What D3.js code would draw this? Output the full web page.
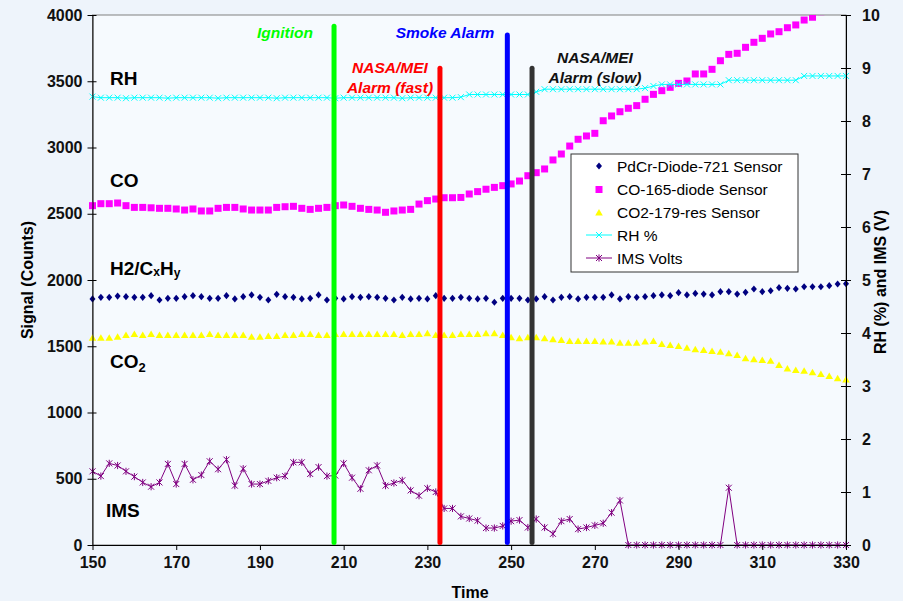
<!DOCTYPE html>
<html>
<head>
<meta charset="utf-8">
<script src="https://cdn.jsdelivr.net/npm/d3@7"></script>
<style>
  body { margin: 0; background: #eef4fb; }
  svg { display: block; font-family: "Liberation Sans", Arial, sans-serif; }
</style>
</head>
<body>
<div id="chart"></div>
<script>
// sample times (x)
const times = [150,152,154,156,158,160,162,164,166,168,170,172,174,176,178,180,182,184,186,188,
    190,192,194,196,198,200,202,204,206,208,210,212,214,216,218,220,222,224,226,228,
    230,232,234,236,238,240,242,244,246,248,250,252,254,256,258,260,262,264,266,268,
    270,272,274,276,278,280,282,284,286,288,290,292,294,296,298,300,302,304,306,308,
    310,312,314,316,318,320,322,324,326,328,330];

// left axis series (counts)
const pdcr = [1857,1869,1869,1879,1874,1869,1869,1882,1849,1862,1862,1874,1882,1874,1862,1862,1882,1857,1874,1887,
    1869,1849,1892,1874,1869,1857,1862,1887,1849,1862,1857,1874,1869,1874,1869,1862,1849,1869,1857,1862,
    1857,1882,1862,1862,1869,1862,1857,1862,1832,1862,1862,1862,1849,1857,1874,1849,1869,1874,1857,1869,
    1869,1869,1887,1857,1874,1869,1874,1882,1887,1882,1904,1887,1899,1894,1887,1912,1912,1894,1907,1932,
    1912,1919,1942,1937,1932,1949,1949,1949,1957,1970,1972];

const co = [2561,2576,2576,2581,2561,2548,2548,2545,2541,2541,2536,2528,2536,2521,2521,2541,2548,2548,2536,2528,
    2528,2528,2548,2553,2556,2541,2533,2541,2548,2561,2566,2556,2541,2533,2528,2511,2521,2528,2533,2573,
    2599,2611,2621,2621,2623,2649,2667,2685,2699,2712,2725,2747,2787,2810,2838,2906,2951,3011,3062,3087,
    3107,3202,3238,3270,3296,3316,3364,3401,3429,3454,3484,3502,3555,3555,3590,3655,3703,3711,3756,3794,
    3824,3857,3874,3904,3925,3962,3983,4025,4050,4085,4110];

const co2 = [1565,1565,1565,1572,1585,1593,1585,1593,1585,1585,1585,1585,1585,1585,1593,1585,1585,1585,1585,1572,
    1572,1577,1577,1585,1585,1593,1593,1585,1585,1593,1593,1593,1593,1593,1593,1593,1593,1585,1593,1593,
    1598,1585,1585,1585,1593,1593,1593,1598,1598,1585,1568,1560,1568,1568,1560,1553,1547,1540,1540,1540,
    1540,1535,1535,1527,1527,1527,1535,1540,1517,1509,1502,1489,1477,1472,1464,1459,1447,1434,1409,1401,
    1396,1391,1358,1333,1321,1315,1303,1290,1275,1258,1250];

// right axis series
const rh = [8.46,8.44,8.44,8.44,8.43,8.44,8.44,8.44,8.44,8.43,8.44,8.44,8.44,8.44,8.44,8.43,8.44,8.44,8.44,8.44,
    8.44,8.44,8.43,8.44,8.44,8.44,8.44,8.44,8.44,8.43,8.44,8.44,8.44,8.44,8.44,8.44,8.44,8.43,8.44,8.44,
    8.44,8.44,8.44,8.44,8.45,8.50,8.50,8.50,8.50,8.50,8.50,8.50,8.50,8.55,8.60,8.60,8.60,8.60,8.60,8.60,
    8.60,8.60,8.60,8.60,8.60,8.60,8.62,8.66,8.69,8.69,8.69,8.69,8.69,8.69,8.69,8.69,8.77,8.77,8.77,8.77,
    8.77,8.77,8.77,8.77,8.77,8.85,8.85,8.85,8.85,8.85,8.85];

const ims = [1.39,1.30,1.54,1.50,1.39,1.29,1.18,1.10,1.18,1.53,1.15,1.53,1.23,1.32,1.58,1.43,1.61,1.12,1.44,1.15,
    1.15,1.21,1.27,1.30,1.56,1.56,1.34,1.47,1.30,1.31,1.54,1.27,1.06,1.41,1.50,1.12,1.17,1.22,1.03,0.93,
    1.07,1.00,0.69,0.69,0.54,0.50,0.46,0.32,0.32,0.36,0.45,0.47,0.33,0.49,0.33,0.21,0.45,0.49,0.30,0.33,
    0.37,0.41,0.61,0.84,0,0,0,0,0,0,0,0,0,0,0,0,1.08,0,0,0,
    0,0,0,0,0,0,0,0,0,0,0];

const xTicks = [150,170,190,210,230,250,270,290,310,330];
const leftTicks = [0,500,1000,1500,2000,2500,3000,3500,4000];
const rightTicks = [0,1,2,3,4,5,6,7,8,9,10];

// event markers
const eventNames = [["Ignition"], ["NASA/MEI", "Alarm (fast)"], ["Smoke Alarm"], ["NASA/MEI", "Alarm (slow)"]];
const eventTimes = [207.7, 233, 249.1, 255];
const eventTops = [3915, 3598, 3849, 3598];
const eventColors = ["#00ff00", "#ff0000", "#0000ff", "#333333"];

const seriesNames = ["PdCr-Diode-721 Sensor", "CO-165-diode Sensor", "CO2-179-res Sensor", "RH %", "IMS Volts"];

const W = 903, H = 601;
const x = d3.scaleLinear().domain([150, 330]).range([92.5, 846]);
const yL = d3.scaleLinear().domain([0, 4000]).range([545, 15]);
const yR = d3.scaleLinear().domain([0, 10]).range([545, 15]);

const svg = d3.select('#chart').append('svg')
    .attr('width', W)
    .attr('height', H);

svg.append('rect')
    .attr('x', x(150)).attr('y', yL(4000))
    .attr('width', x(330) - x(150)).attr('height', yL(0) - yL(4000))
    .attr('fill', '#f6fafe')
    .attr('stroke', '#808080');

svg.append('clipPath').attr('id', 'plot')
    .append('rect')
    .attr('x', x(150) - 6).attr('y', yL(4000))
    .attr('width', x(330) - x(150) + 12).attr('height', yL(0) - yL(4000) + 6);

const plot = svg.append('g').attr('clip-path', 'url(#plot)');

const diamond = 'M0,-3.6L3,0L0,3.6L-3,0Z';
const tri = 'M0,-3.5L3.8,3L-3.8,3Z';
const cross = 'M-3,-3L3,3M-3,3L3,-3';
const star = 'M-3,-3L3,3M-3,3L3,-3M0,-3.6V3.6';

// PdCr
plot.append('g').selectAll('path')
    .data(pdcr)
    .enter()
    .append('path')
    .attr('d', diamond)
    .attr('transform', (d, i) => `translate(${x(times[i])},${yL(d)})`)
    .attr('fill', '#000080');

// CO
plot.append('g').selectAll('rect')
    .data(co)
    .enter()
    .append('rect')
    .attr('x', (d, i) => x(times[i]) - 3.5)
    .attr('y', d => yL(d) - 3.5)
    .attr('width', 7).attr('height', 7)
    .attr('fill', '#ff00ff');

// CO2
plot.append('g').selectAll('path')
    .data(co2)
    .enter()
    .append('path')
    .attr('d', tri)
    .attr('transform', (d, i) => `translate(${x(times[i])},${yL(d)})`)
    .attr('fill', '#ffff00');

// RH
const line = d3.line().x((d, i) => x(times[i])).y(d => yR(d));
plot.append('path')
    .attr('d', line(rh))
    .attr('fill', 'none')
    .attr('stroke', '#00ffff')
    .attr('stroke-width', 1);
plot.append('g').selectAll('path')
    .data(rh)
    .enter()
    .append('path')
    .attr('d', cross)
    .attr('transform', (d, i) => `translate(${x(times[i])},${yR(d)})`)
    .attr('stroke', '#00ffff')
    .attr('fill', 'none');

// IMS
plot.append('path')
    .attr('d', line(ims))
    .attr('fill', 'none')
    .attr('stroke', '#800080')
    .attr('stroke-width', 1);
plot.append('g').selectAll('path')
    .data(ims)
    .enter()
    .append('path')
    .attr('d', star)
    .attr('transform', (d, i) => `translate(${x(times[i])},${yR(d)})`)
    .attr('stroke', '#800080')
    .attr('fill', 'none');

// event lines
svg.append('g').selectAll('line')
    .data(eventTimes)
    .enter()
    .append('line')
    .attr('x1', d => x(d)).attr('x2', d => x(d))
    .attr('y1', yL(0) - 2.5)
    .attr('y2', (d, i) => yL(eventTops[i]))
    .attr('stroke', (d, i) => eventColors[i])
    .attr('stroke-width', 5)
    .attr('stroke-linecap', 'round');

// event labels
const evPos = [[285, 38], [390, 73], [445, 38], [595, 63]];
eventNames.forEach((lines, i) => {
    const t = svg.append('text')
        .attr('x', evPos[i][0]).attr('y', evPos[i][1])
        .attr('text-anchor', 'middle')
        .attr('font-size', '15.5px')
        .attr('font-weight', 'bold')
        .attr('font-style', 'italic')
        .attr('fill', eventColors[i] === '#333333' ? '#111' : eventColors[i]);
    lines.forEach((l, j) => t.append('tspan').attr('x', evPos[i][0]).attr('dy', j ? 19.5 : 0).text(l));
});

// axes
const styleAxis = g => {
    g.select('.domain').attr('stroke', '#000');
    g.selectAll('.tick line').attr('stroke', '#000');
    g.selectAll('.tick text')
        .attr('font-size', '16px')
        .attr('font-weight', 'bold')
        .attr('font-family', '"Liberation Sans", Arial, sans-serif')
        .attr('fill', '#111');
};

svg.append('g')
    .attr('transform', `translate(${x(150)},0)`)
    .call(d3.axisLeft(yL).tickValues(leftTicks).tickFormat(d3.format('d')).tickSize(5).tickSizeOuter(0).tickPadding(5))
    .call(styleAxis)
    .call(g => g.selectAll('.tick line').attr('x1', 4));

svg.append('g')
    .attr('transform', `translate(${x(330)},0)`)
    .call(d3.axisRight(yR).tickValues(rightTicks).tickFormat(d3.format('d')).tickSize(5).tickSizeOuter(0).tickPadding(11))
    .call(styleAxis)
    .call(g => g.selectAll('.tick line').attr('x1', -5));

svg.append('g')
    .attr('transform', `translate(0,${yL(0)})`)
    .call(d3.axisBottom(x).tickValues(xTicks).tickFormat(d3.format('d')).tickSize(5).tickSizeOuter(0).tickPadding(7))
    .call(styleAxis);

// axis titles
svg.append('text')
    .attr('transform', 'translate(33,280) rotate(-90)')
    .attr('text-anchor', 'middle')
    .attr('font-size', '16px').attr('font-weight', 'bold')
    .text('Signal (Counts)');
svg.append('text')
    .attr('transform', 'translate(886,282) rotate(-90)')
    .attr('text-anchor', 'middle')
    .attr('font-size', '16px').attr('font-weight', 'bold')
    .text('RH (%) and IMS (V)');
svg.append('text')
    .attr('x', 470).attr('y', 598)
    .attr('text-anchor', 'middle')
    .attr('font-size', '16px').attr('font-weight', 'bold')
    .text('Time');

// series labels
const lab = (xx, yy) => svg.append('text').attr('x', xx).attr('y', yy)
    .attr('font-size', '19px').attr('font-weight', 'bold').attr('fill', '#000');
lab(110, 85).text('RH');
lab(110, 187).text('CO');
const h2 = lab(110, 275);
h2.append('tspan').text('H2/C');
h2.append('tspan').attr('font-size', '12px').attr('dy', 1).text('x');
h2.append('tspan').attr('dy', -1).text('H');
h2.append('tspan').attr('font-size', '12px').attr('dy', 2).text('y');
const c2 = lab(110, 368);
c2.append('tspan').text('CO');
c2.append('tspan').attr('font-size', '13px').attr('dy', 4).text('2');
lab(106, 517).text('IMS');

// legend
const leg = svg.append('g');
leg.append('rect')
    .attr('x', 571).attr('y', 154).attr('width', 227).attr('height', 118)
    .attr('fill', '#ffffff').attr('stroke', '#333').attr('stroke-width', 1);
const legY = [166, 189.5, 212.5, 235, 258];
const mk = [
    g => g.append('path').attr('d', diamond).attr('fill', '#000080'),
    g => g.append('rect').attr('x', -3.5).attr('y', -3.5).attr('width', 7).attr('height', 7).attr('fill', '#ff00ff'),
    g => g.append('path').attr('d', tri).attr('fill', '#ffff00'),
    g => { g.append('line').attr('x1', -13).attr('x2', 13).attr('stroke', '#00ffff');
           g.append('path').attr('d', cross).attr('stroke', '#00ffff').attr('fill', 'none'); },
    g => { g.append('line').attr('x1', -13).attr('x2', 13).attr('stroke', '#800080');
           g.append('path').attr('d', star).attr('stroke', '#800080').attr('fill', 'none'); }
];
seriesNames.forEach((name, i) => {
    const g = leg.append('g').attr('transform', `translate(599,${legY[i]})`);
    mk[i](g);
    leg.append('text')
        .attr('x', 617).attr('y', legY[i] + 5.5)
        .attr('font-size', '15.5px')
        .attr('fill', '#000')
        .text(name);
});
</script>
</body>
</html>
